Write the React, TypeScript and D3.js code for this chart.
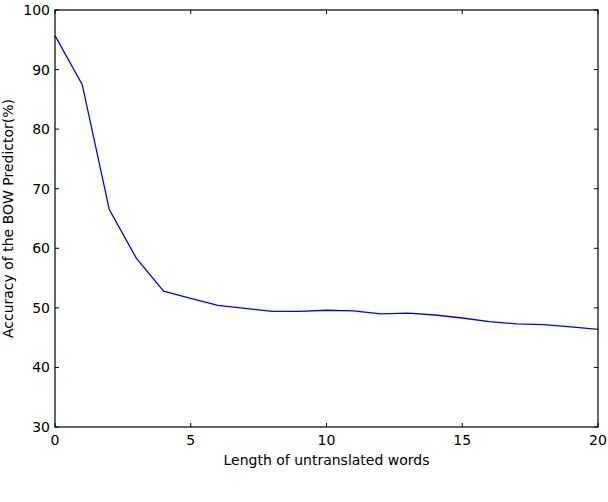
import React from 'react';
import * as d3 from 'd3';

// words left untranslated (x) vs. BOW predictor accuracy (y)
const lengths = [0, 1, 2, 3, 4, 5, 6, 7, 8, 9, 10, 11, 12, 13, 14, 15, 16, 17, 18, 19, 20];
const accuracy = [95.7, 87.5, 66.5, 58.3, 52.8, 51.6, 50.4, 49.9, 49.4, 49.4, 49.6, 49.5, 49.0, 49.1, 48.8, 48.3, 47.7, 47.3, 47.2, 46.8, 46.4];
const xTicks = [0, 5, 10, 15, 20];
const yTicks = [30, 40, 50, 60, 70, 80, 90, 100];

const W = 608;
const H = 502;
const margin = { left: 55, right: 10, top: 10, bottom: 75 };

const App = () => {
    const x = d3.scaleLinear().domain([0, 20]).range([margin.left, W - margin.right]);
    const y = d3.scaleLinear().domain([30, 100]).range([H - margin.bottom, margin.top]);
    const line = d3.line<number>().x((d, i) => x(lengths[i])).y(d => y(d));
    const font = "'DejaVu Sans', sans-serif";
    const [x0, x1] = x.range();
    const [y0, y1] = y.range();

    return (
        <svg width={W} height={H} style={{ position: 'absolute', left: 0, top: 0 }}>
            <rect width={W} height={H} fill="#fff" />
            <path d={line(accuracy) || ''} fill="none" stroke="#0000ff" strokeWidth={1.3} />
            {xTicks.map(t => (
                <g key={'x' + t}>
                    <line x1={x(t)} x2={x(t)} y1={y0} y2={y0 - 4} stroke="#000" />
                    <line x1={x(t)} x2={x(t)} y1={y1} y2={y1 + 4} stroke="#000" />
                    <text x={x(t)} y={y0 + 18} textAnchor="middle" fontFamily={font} fontSize={14}>{t}</text>
                </g>
            ))}
            {yTicks.map(t => (
                <g key={'y' + t}>
                    <line x1={x0} x2={x0 + 4} y1={y(t)} y2={y(t)} stroke="#000" />
                    <line x1={x1} x2={x1 - 4} y1={y(t)} y2={y(t)} stroke="#000" />
                    <text x={x0 - 5} y={y(t)} dy="0.36em" textAnchor="end" fontFamily={font} fontSize={14}>{t}</text>
                </g>
            ))}
            <rect x={x0} y={y1} width={x1 - x0} height={y0 - y1} fill="none" stroke="#000" strokeWidth={1.2} />
            <text x={(x0 + x1) / 2} y={y0 + 38} textAnchor="middle" fontFamily={font} fontSize={14}>Length of untranslated words</text>
            <text transform={`translate(13,${(y0 + y1) / 2}) rotate(-90)`} textAnchor="middle" fontFamily={font} fontSize={14}>Accuracy of the BOW Predictor(%)</text>
        </svg>
    );
};

export default App;
